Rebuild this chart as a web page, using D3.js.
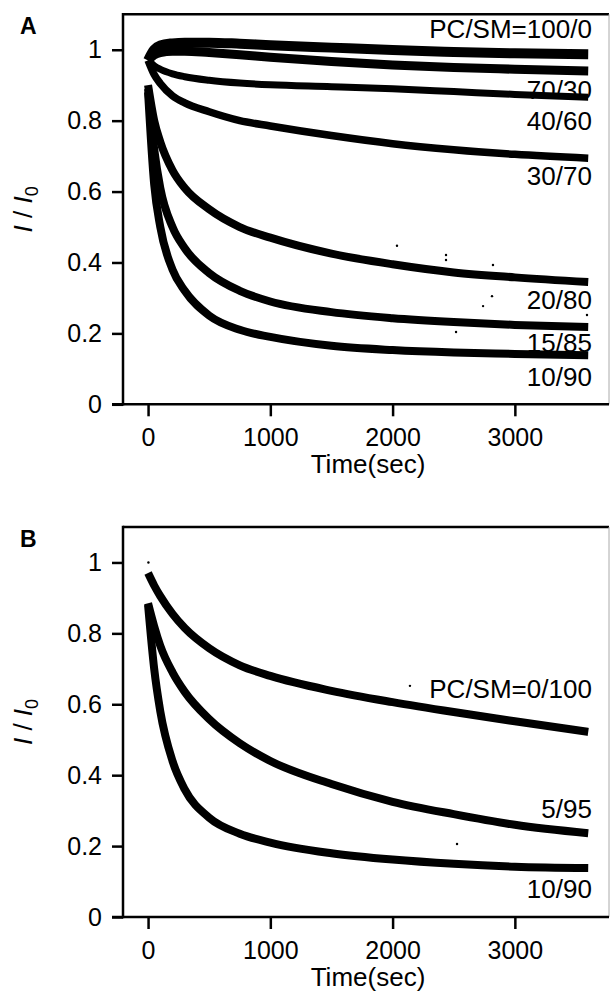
<!DOCTYPE html>
<html>
<head>
<meta charset="utf-8">
<script src="https://cdn.jsdelivr.net/npm/d3@7"></script>
<style>
  html, body { margin: 0; padding: 0; background: #fff; }
  svg { display: block; }
  text { font-family: "Liberation Sans", Arial, Helvetica, sans-serif; fill: #000; }
</style>
</head>
<body>
<svg id="chart" width="611" height="995"></svg>
<script>
// ---------- data ----------
const times = [0, 50, 100, 200, 300, 500, 750, 1000, 1500, 2000, 2500, 3000, 3600];

// Panel A series (I/I0)
const a100_0 = [0.97, 1.00, 1.012, 1.018, 1.02, 1.02, 1.017, 1.013, 1.006, 0.999, 0.994, 0.99, 0.987];
const a70_30 = [0.97, 0.985, 0.992, 0.996, 0.996, 0.992, 0.986, 0.979, 0.967, 0.957, 0.950, 0.945, 0.940];
const a40_60 = [0.97, 0.955, 0.945, 0.932, 0.924, 0.914, 0.906, 0.901, 0.896, 0.890, 0.882, 0.874, 0.866];
const a30_70 = [0.97, 0.93, 0.905, 0.87, 0.85, 0.825, 0.80, 0.785, 0.758, 0.735, 0.718, 0.705, 0.694];
const a20_80 = [0.90, 0.80, 0.74, 0.66, 0.61, 0.55, 0.50, 0.47, 0.425, 0.395, 0.372, 0.358, 0.345];
const a15_85 = [0.89, 0.72, 0.61, 0.50, 0.44, 0.37, 0.32, 0.29, 0.26, 0.243, 0.232, 0.224, 0.218];
const a10_90 = [0.88, 0.62, 0.50, 0.38, 0.32, 0.25, 0.21, 0.19, 0.165, 0.153, 0.146, 0.142, 0.138];
const labelsA = ["PC/SM=100/0", "70/30", "40/60", "30/70", "20/80", "15/85", "10/90"];

// stray points visible in panel A (time, I/I0)
const strayA_t = [2036, 2437, 2437, 2821, 2813, 2740, 2519, 3590];
const strayA_v = [0.447, 0.421, 0.407, 0.393, 0.305, 0.277, 0.204, 0.252];

// Panel B series (I/I0)
const b0_100 = [0.97, 0.935, 0.905, 0.855, 0.815, 0.758, 0.71, 0.68, 0.638, 0.606, 0.578, 0.552, 0.522];
const b5_95  = [0.885, 0.82, 0.765, 0.69, 0.635, 0.558, 0.49, 0.44, 0.375, 0.325, 0.29, 0.26, 0.236];
const b10_90 = [0.88, 0.70, 0.58, 0.44, 0.36, 0.28, 0.235, 0.21, 0.18, 0.162, 0.15, 0.142, 0.138];
const labelsB = ["PC/SM=0/100", "5/95", "10/90"];

// stray points visible in panel B (time, I/I0)
const strayB_t = [2142, 2527, 3];
const strayB_v = [0.652, 0.206, 1.0];

const xTicks = [0, 1000, 2000, 3000];
const yTicks = [0, 0.2, 0.4, 0.6, 0.8, 1];

// ---------- layout ----------
const svg = d3.select("#chart");
const plotLeft = 123, plotRight = 609;
const panels = [
  { letter: "A", top: 14.3, bottom: 404.3, series: [a100_0, a70_30, a40_60, a30_70, a20_80, a15_85, a10_90],
    widths: [10, 9, 7, 7.5, 8, 8, 8],
    strayT: strayA_t, strayV: strayA_v,
    labels: labelsA, labelV: [1.033, 0.861, 0.774, 0.619, 0.269, 0.148, 0.052] },
  { letter: "B", top: 527, bottom: 917, series: [b0_100, b5_95, b10_90],
    widths: [8, 8, 8],
    strayT: strayB_t, strayV: strayB_v,
    labels: labelsB, labelV: [0.618, 0.279, 0.054] }
];

const x = d3.scaleLinear().domain([-205, 3770]).range([plotLeft, plotRight]);

panels.forEach(p => {
  const y = d3.scaleLinear().domain([0, 1.1]).range([p.bottom, p.top]);
  const g = svg.append("g");

  // curves
  const line = d3.line().x((d, i) => x(times[i])).y(d => y(d)).curve(d3.curveMonotoneX);
  p.series.forEach((s, k) => {
    g.append("path").attr("d", line(s))
      .attr("fill", "none").attr("stroke", "#000")
      .attr("stroke-width", p.widths[k]).attr("stroke-linejoin", "round");
  });
  g.selectAll("circle.stray").data(p.strayT).enter().append("circle")
    .attr("cx", d => x(d)).attr("cy", (d, i) => y(p.strayV[i])).attr("r", 1.2).attr("fill", "#000");

  // frame
  g.append("line").attr("x1", plotLeft).attr("x2", plotRight).attr("y1", p.top).attr("y2", p.top)
    .attr("stroke", "#000").attr("stroke-width", 2.5);
  g.append("line").attr("x1", plotRight).attr("x2", plotRight).attr("y1", p.top).attr("y2", p.bottom)
    .attr("stroke", "#aaa").attr("stroke-width", 1);

  // axes
  const yAxis = d3.axisLeft(y).tickValues(yTicks).tickFormat(d3.format("~g"))
    .tickSizeInner(11).tickSizeOuter(0).tickPadding(10);
  const ya = g.append("g").attr("transform", `translate(${plotLeft},0)`).call(yAxis);
  const xAxis = d3.axisBottom(x).tickValues(xTicks).tickFormat(d3.format("d"))
    .tickSizeInner(12).tickSizeOuter(0).tickPadding(12);
  const xa = g.append("g").attr("transform", `translate(0,${p.bottom})`).call(xAxis);
  [ya, xa].forEach(a => {
    a.select(".domain").remove();
    a.selectAll(".tick line").attr("stroke", "#000").attr("stroke-width", 2.5);
    a.selectAll(".tick text").attr("font-size", 25).attr("fill", "#000")
      .attr("font-family", '"Liberation Sans", Arial, Helvetica, sans-serif');
  });
  g.append("line").attr("x1", plotLeft).attr("x2", plotLeft).attr("y1", p.top - 1.2).attr("y2", p.bottom + 1.2)
    .attr("stroke", "#000").attr("stroke-width", 2.5);
  g.append("line").attr("x1", plotLeft - 11).attr("x2", plotRight).attr("y1", p.bottom).attr("y2", p.bottom)
    .attr("stroke", "#000").attr("stroke-width", 2.5);

  // curve labels
  p.labels.forEach((lab, k) => {
    g.append("text").attr("x", x(3630)).attr("y", y(p.labelV[k]))
      .attr("text-anchor", "end").attr("font-size", 26).text(lab);
  });

  // axis titles
  g.append("text").attr("x", 368).attr("y", p.bottom + 69)
    .attr("text-anchor", "middle").attr("font-size", 26).text("Time(sec)");
  const cy = (p.top + p.bottom) / 2;
  const yt = g.append("text").attr("transform", `translate(32,${cy}) rotate(-90)`)
    .attr("text-anchor", "middle").attr("font-size", 26);
  yt.append("tspan").attr("font-style", "italic").text("I");
  yt.append("tspan").text(" / ");
  yt.append("tspan").attr("font-style", "italic").text("I");
  yt.append("tspan").attr("font-size", 18).attr("dy", 6).text("0");

  // panel letter
  g.append("text").attr("x", 20).attr("y", p.top + 20)
    .attr("font-size", 23).attr("font-weight", "bold").text(p.letter);
});
</script>
</body>
</html>
